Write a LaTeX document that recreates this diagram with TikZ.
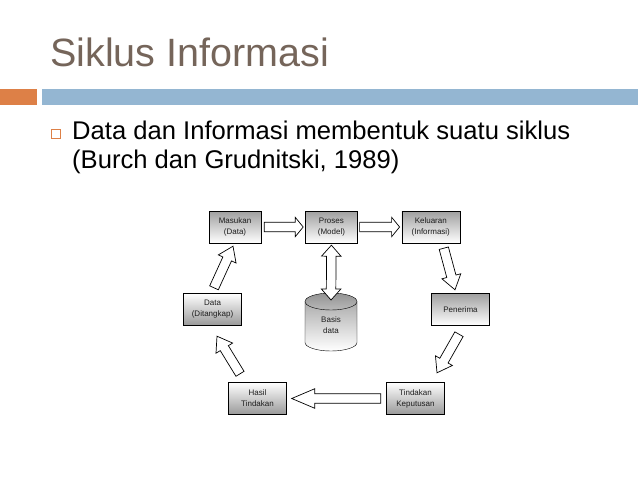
\documentclass[tikz,border=0pt]{standalone}
\usepackage{fontspec}
\setmainfont{Liberation Sans}
\usetikzlibrary{positioning,calc}
\definecolor{titleclr}{RGB}{117,101,90}
\definecolor{orangeclr}{RGB}{221,128,71}
\definecolor{blueclr}{RGB}{148,182,210}
\definecolor{txtclr}{RGB}{30,30,30}
\tikzset{ %
  ,every node/.style={font=\fontsize{8}{11}\selectfont, text=txtclr}
  ,boxtop/.style={draw, align=center, inner sep=1pt, minimum height=32pt, minimum width=58pt, node distance=44pt, top color=gray!75, bottom color=white}
  ,boxbot/.style={boxtop, top color=white, bottom color=gray!80}
  ,blockarrow/.style={draw=black, fill=white, line width=0.7pt, line join=miter}
  ,bigtxt/.style={anchor=base west, inner sep=0, text=black, font=\fontsize{25.6}{29}\selectfont}
}
\newcommand\shaftw{4.75pt}
\newcommand\headw{9.75pt}
\newcommand\blockarrow[3][8pt]{%
  \coordinate (ba-h) at ($(#3)!#1!(#2)$);
  \draw[blockarrow] ($(#2)!\shaftw!90:(#3)$) -- ($(ba-h)!\shaftw!90:(#3)$)
    -- ($(ba-h)!\headw!90:(#3)$) -- (#3) -- ($(ba-h)!\headw!-90:(#3)$)
    -- ($(ba-h)!\shaftw!-90:(#3)$) -- ($(#2)!\shaftw!-90:(#3)$) -- cycle;}
\newcommand\dblockarrow[3][8pt]{%
  \coordinate (ba-h) at ($(#3)!#1!(#2)$);
  \coordinate (ba-t) at ($(#2)!#1!(#3)$);
  \draw[blockarrow] (#2) -- ($(ba-t)!\headw!90:(#3)$) -- ($(ba-t)!\shaftw!90:(#3)$)
    -- ($(ba-h)!\shaftw!90:(#3)$) -- ($(ba-h)!\headw!90:(#3)$) -- (#3)
    -- ($(ba-h)!\headw!-90:(#3)$) -- ($(ba-h)!\shaftw!-90:(#3)$)
    -- ($(ba-t)!\shaftw!-90:(#3)$) -- ($(ba-t)!\headw!-90:(#3)$) -- cycle;}

\begin{document}
\begin{tikzpicture}[x=1pt, y=1pt]
  \useasboundingbox (0,0) rectangle (638,-479);

  \node[anchor=base west, inner sep=0, text=titleclr, font=\fontsize{39.5}{47}\selectfont] (title) at (50,-66) {Siklus Informasi};
  \fill[orangeclr] (0,-89) rectangle (37,-105);
  \fill[blueclr] (42,-89) rectangle (638,-105);
  \draw[orangeclr, line width=0.8pt] (51.5,-129.5) rectangle (60.5,-138.5);
  \node[bigtxt] (line1) at (72,-139) {Data dan Informasi membentuk suatu siklus};
  \node[bigtxt] (line2) at (72,-168) {(Burch dan Grudnitski, 1989)};

  \node[boxtop, minimum width=52pt] (mas) at (235,-227) {Masukan\\(Data)};
  \node[boxtop, minimum width=52pt, right=of mas] (pro) {Proses\\(Model)};
  \node[boxtop, right=of pro] (kel) {Keluaran\\(Informasi)};
  \node[boxtop] (pen) at (460.5,-309.5) {Penerima};
  \node[boxbot] (dat) at (212.5,-309.5) {Data\\(Ditangkap)};
  \node[boxbot] (has) at (257.5,-398.5) {Hasil\\Tindakan};
  \node[boxbot] (tin) at (415.5,-398.5) {Tindakan\\Keputusan};

  \path[draw, top color=gray!65, bottom color=white] (305,-301.5) -- (305,-342.5)
    arc[start angle=180, end angle=360, x radius=26pt, y radius=8.5pt] -- (357,-301.5) -- cycle;
  \draw[top color=gray!85, bottom color=gray!55] (331,-301.5) ellipse[x radius=26pt, y radius=8.5pt];
  \node[align=center] (db) at (331,-325) {Basis\\data};
  \coordinate (dbtop) at (331,-300);

  \coordinate (a1) at ($(mas.east)+(3pt,0)$);
  \coordinate (b1) at ($(pro.west)+(-2pt,0)$);
  \coordinate (a2) at ($(pro.east)+(2pt,0)$);
  \coordinate (b2) at ($(kel.west)+(-2pt,0)$);
  \coordinate (a3) at ($(kel.south)+(13pt,-5pt)$);
  \coordinate (b3) at ($(pen.north)+(-5.5pt,3.5pt)$);
  \coordinate (a4) at ($(pen.south)+(-1.5pt,-8.5pt)$);
  \coordinate (b4) at ($(tin.north)+(21.5pt,9.5pt)$);
  \coordinate (a5) at ($(tin.west)+(-5.5pt,0)$);
  \coordinate (b5) at ($(has.east)+(5pt,0)$);
  \coordinate (a6) at ($(has.north)+(-17.5pt,8.5pt)$);
  \coordinate (b6) at ($(dat.south)+(4.5pt,-10.5pt)$);
  \coordinate (a7) at ($(dat.north)+(1.5pt,5.5pt)$);
  \coordinate (b7) at ($(mas.south)+(-2pt,-3pt)$);
  \coordinate (a8) at ($(pro.south)+(0,-2pt)$);

  \blockarrow{a1}{b1}
  \blockarrow{a2}{b2}
  \blockarrow[14pt]{a3}{b3}
  \blockarrow[14pt]{a4}{b4}
  \blockarrow[23pt]{a5}{b5}
  \blockarrow[14pt]{a6}{b6}
  \blockarrow[14pt]{a7}{b7}
  \dblockarrow[11pt]{a8}{dbtop}
\end{tikzpicture}
\end{document}
